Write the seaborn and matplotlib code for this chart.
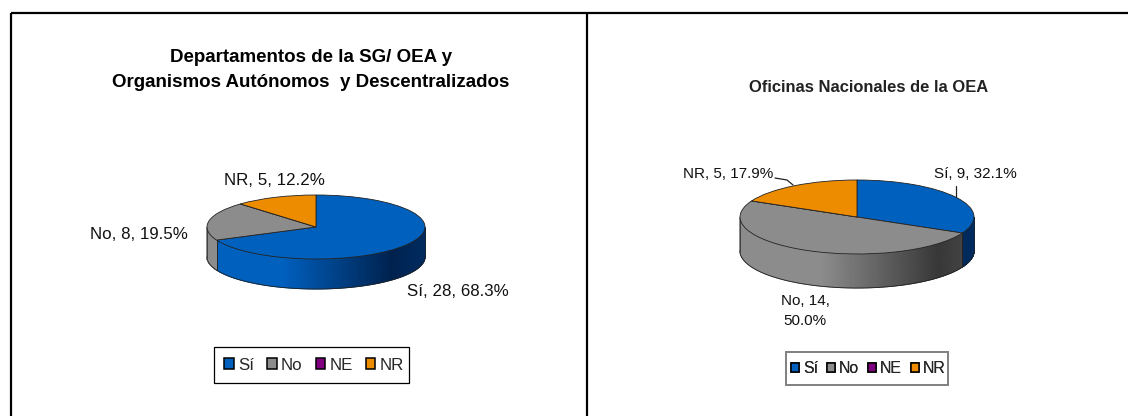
import numpy as np
import seaborn as sns
import matplotlib.pyplot as plt
from matplotlib.colors import LinearSegmentedColormap
from matplotlib.patches import Patch, Rectangle

sns.set_theme(style="white")
plt.rcParams['font.family'] = ['Liberation Sans', 'DejaVu Sans']

categories = ['Sí', 'No', 'NE', 'NR']
colors = ['#0060BE', '#8C8C8C', '#800080', '#EE8C00']
dark_colors = ['#00224F', '#383838', '#400040', '#774600']
end_colors = ['#002B60', '#484848', '#500050', '#885000']

title_left = 'Departamentos de la SG/ OEA y\nOrganismos Autónomos  y Descentralizados'
values_left = [28, 8, 0, 5]
labels_left = ['Sí, 28, 68.3%', 'No, 8, 19.5%', 'NR, 5, 12.2%']

title_right = 'Oficinas Nacionales de la OEA'
values_right = [9, 14, 0, 5]
labels_right = ['Sí, 9, 32.1%', 'No, 14,\n50.0%', 'NR, 5, 17.9%']

W, H = 1128, 416
fig = plt.figure(figsize=(W / 100, H / 100), dpi=100)

# whole figure in pixel coordinates, for frame and texts
bg = fig.add_axes([0, 0, 1, 1], zorder=0)
bg.set_xlim(0, W)
bg.set_ylim(H, 0)
bg.axis('off')


def pie3d(values, cx, cy, rx, ry, depth):
    # axes box is exactly the top ellipse, so the pie is squashed by the axes
    pad = depth / ry
    ax = fig.add_axes([(cx - rx) / W, 1 - (cy + ry) / H, 2 * rx / W, 2 * ry / H], zorder=1)
    ax.pie(values, colors=colors, startangle=90, counterclock=False, radius=1,
           wedgeprops=dict(edgecolor='#222222', linewidth=0.6))
    ax.set_aspect('auto')
    ax.set_xlim(-1, 1)
    ax.set_ylim(-1, 1)

    # side wall, only the front half of the rim is visible
    total = sum(values)
    edges = 90 - np.cumsum([0] + list(values)) / total * 360
    for i in range(len(values)):
        if values[i] == 0:
            continue
        for shift in (0, -360):
            a0 = max(edges[i + 1] + shift, -180)
            a1 = min(edges[i] + shift, 0)
            if a1 <= a0:
                continue
            t = np.radians(np.linspace(a0, a1, 120))
            x = np.cos(t)
            y = np.sin(t)
            X = np.vstack([x, x])
            Y = np.vstack([y, y - pad])
            cmap = LinearSegmentedColormap.from_list(
                'wall', [(0, colors[i]), (0.35, colors[i]), (0.85, dark_colors[i]), (1, end_colors[i])])
            C = (X[0] + 1) / 2
            ax.pcolormesh(X, Y, np.vstack([C, C]), cmap=cmap, vmin=0, vmax=1,
                          shading='gouraud', clip_on=False, zorder=0)
            ax.plot(x, y - pad, color='#222222', lw=0.6, clip_on=False, zorder=0.5)
            ax.plot([x[0], x[0]], [y[0], y[0] - pad], color='#222222', lw=0.5,
                    clip_on=False, zorder=0.5)
            ax.plot([x[-1], x[-1]], [y[-1], y[-1] - pad], color='#222222', lw=0.5,
                    clip_on=False, zorder=0.5)
    return ax


def legend_box(box, cx, fontsize, edge, lw, gap, hlen):
    x, y, w, h = box
    bg.add_patch(Rectangle((x, y), w, h, facecolor='white', edgecolor=edge, linewidth=lw))
    handles = [Patch(facecolor=c, edgecolor='black', linewidth=1.1) for c in colors]
    leg = bg.legend(handles, categories, loc='center', bbox_to_anchor=(cx, y + h / 2),
                    bbox_transform=bg.transData, ncol=4, frameon=False,
                    fontsize=fontsize, handlelength=hlen, handleheight=hlen,
                    handletextpad=0.25, columnspacing=gap, borderpad=0, borderaxespad=0)
    bg.add_artist(leg)
    return leg


# frame lines
bg.plot([10.5, W], [12.5, 12.5], color='black', lw=1.6, solid_capstyle='butt')
bg.plot([10.5, 10.5], [12.5, H], color='black', lw=1.6, solid_capstyle='butt')
bg.plot([586.5, 586.5], [12.5, H], color='black', lw=1.6, solid_capstyle='butt')

# left chart
pie3d(values_left, 316, 227, 109, 32, 30)
bg.text(310.5, 70, title_left, ha='center', va='center', fontsize=13.5,
        fontweight='bold', color='black', linespacing=1.55)
bg.text(274, 180.5, labels_left[2], ha='center', va='center', fontsize=12.2, color='#111111')
bg.text(139, 234.5, labels_left[1], ha='center', va='center', fontsize=12.2, color='#111111')
bg.text(458, 291, labels_left[0], ha='center', va='center', fontsize=12.2, color='#111111')
legend_box((214, 347, 195, 36), 314, 12.2, 'black', 0.9, 0.78, 0.56)

# right chart
pie3d(values_right, 857, 217, 117, 37, 34)
bg.text(869, 87, title_right, ha='center', va='center', fontsize=11.85,
        fontweight='bold', color='#222222')
bg.text(728, 174, labels_right[2], ha='center', va='center', fontsize=11, color='#111111')
bg.text(975.5, 174, labels_right[0], ha='center', va='center', fontsize=11, color='#111111')
bg.text(805, 311, labels_right[1], ha='center', va='center', fontsize=11, color='#111111',
        linespacing=1.55)
legend_box((786, 352, 162, 33), 868.5, 11.4, '#808080', 1.4, 0.58, 0.5)

# leader lines
bg.plot([775, 787, 793], [178, 180, 185], color='#222222', lw=0.9)
bg.plot([955.5, 955.5], [186, 198], color='#222222', lw=0.9)

fig.savefig('out.png', dpi=100)
